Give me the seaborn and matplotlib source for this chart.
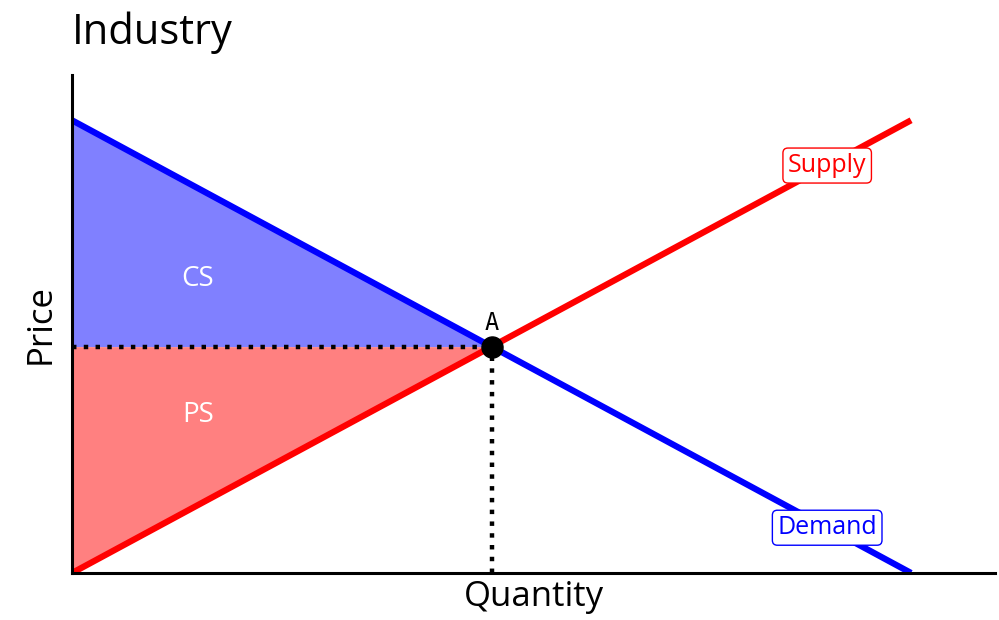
import matplotlib

matplotlib.use("Agg")
import matplotlib.pyplot as plt
import pandas as pd
import seaborn as sns

# curve end points and equilibrium
demand_q = [0, 10]
demand_p = [10, 0]
supply_q = [0, 10]
supply_p = [0, 10]
eq_q, eq_p = 5, 5

sns.set_style("white")
plt.rcParams["font.family"] = ["Open Sans", "DejaVu Sans"]
plt.rcParams["text.color"] = "black"
plt.rcParams["axes.labelcolor"] = "black"

fig = plt.figure(figsize=(9.99, 6.2), dpi=100)
ax = fig.add_axes([72 / 999, 47 / 620, 923 / 999, 498 / 620])

# surplus areas
ax.fill_between([0, eq_q], [demand_p[0], eq_p], [eq_p, eq_p], color="#8080ff", lw=0)
ax.fill_between([0, eq_q], [supply_p[0], eq_p], [eq_p, eq_p], color="#ff8080", lw=0)

lines = pd.DataFrame({
    "q": demand_q + supply_q,
    "p": demand_p + supply_p,
    "curve": ["Demand"] * 2 + ["Supply"] * 2,
})
sns.lineplot(data=lines, x="q", y="p", hue="curve",
             palette={"Demand": "#0000ff", "Supply": "#ff0000"},
             lw=4.5, legend=False, ax=ax, solid_capstyle="butt")

# dotted guides to the equilibrium
ax.plot([0, eq_q], [eq_p, eq_p], ls=":", color="black", lw=3.2, zorder=1.5)
ax.plot([eq_q, eq_q], [0, eq_p], ls=":", color="black", lw=3.2, zorder=1.5)
ax.scatter([eq_q], [eq_p], s=230, color="black", zorder=5)
ax.text(eq_q, eq_p + 0.25, "A", ha="center", va="bottom", fontsize=17,
        family="DejaVu Sans Mono")

ax.text(1.5, 6.5, "CS", ha="center", va="center", color="white", fontsize=20)
ax.text(1.5, 3.5, "PS", ha="center", va="center", color="white", fontsize=20)

ax.text(9, 9, "Supply", ha="center", va="center", color="#ff0000", fontsize=18,
        bbox=dict(boxstyle="round,pad=0.2", fc="white", ec="#ff0000", lw=1))
ax.text(9, 1, "Demand", ha="center", va="center", color="#0000ff", fontsize=18,
        bbox=dict(boxstyle="round,pad=0.2", fc="white", ec="#0000ff", lw=1))

ax.set_xlim(0, 11)
ax.set_ylim(0, 11)
ax.set_xticks([])
ax.set_yticks([])
ax.set_xlabel("Quantity", fontsize=25, labelpad=5)
ax.set_ylabel("Price", fontsize=25, labelpad=10)
ax.set_title("Industry", fontsize=30, loc="left", pad=22)
sns.despine(ax=ax)
for s in ["left", "bottom"]:
    ax.spines[s].set_linewidth(2.2)
    ax.spines[s].set_color("black")

fig.savefig("out.png", dpi=100)
